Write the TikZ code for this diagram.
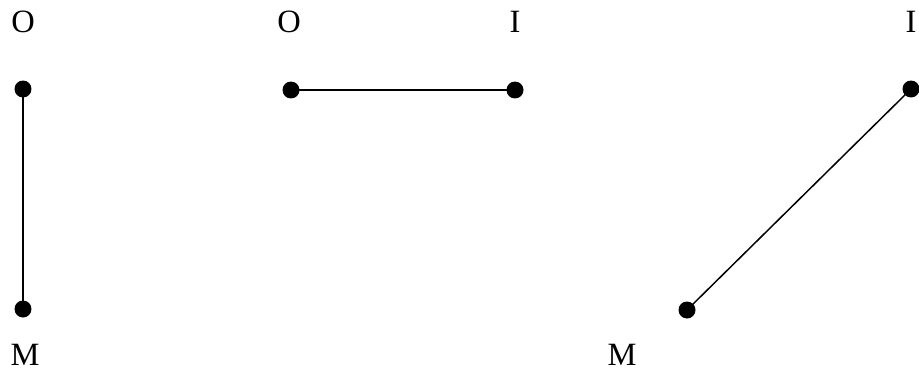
\documentclass[tikz,border=0pt]{standalone}
\usepackage{fontspec}
\setmainfont{Liberation Serif}
\begin{document}
\begin{tikzpicture}[x=0.02cm,y=-0.02cm,
  dot/.style={circle,fill=black,inner sep=0pt,minimum size=0.34cm},
  lbl/.style={inner sep=0pt,font=\fontsize{18.5}{22}\selectfont},
  edge/.style={line width=0.85pt}]
\useasboundingbox (0,0) rectangle (919,372);
\node[dot] (a1) at (23,89) {};
\node[dot] (a2) at (23,309) {};
\node[dot] (b1) at (291,90) {};
\node[dot] (b2) at (515,90) {};
\node[dot] (c1) at (687,310) {};
\node[dot] (c2) at (911,89) {};
\draw[edge] (a1.center) -- (a2.center);
\draw[edge] (b1.center) -- (b2.center);
\draw[edge] (c1.center) -- (c2.center);
\node[lbl] (o1) at (23,22) {O};
\node[lbl] (m1) at (25,355) {M};
\node[lbl] (o2) at (289,22) {O};
\node[lbl] (i2) at (515,22) {I};
\node[lbl] (i3) at (911,22) {I};
\node[lbl] (m3) at (622,355) {M};
\end{tikzpicture}
\end{document}
